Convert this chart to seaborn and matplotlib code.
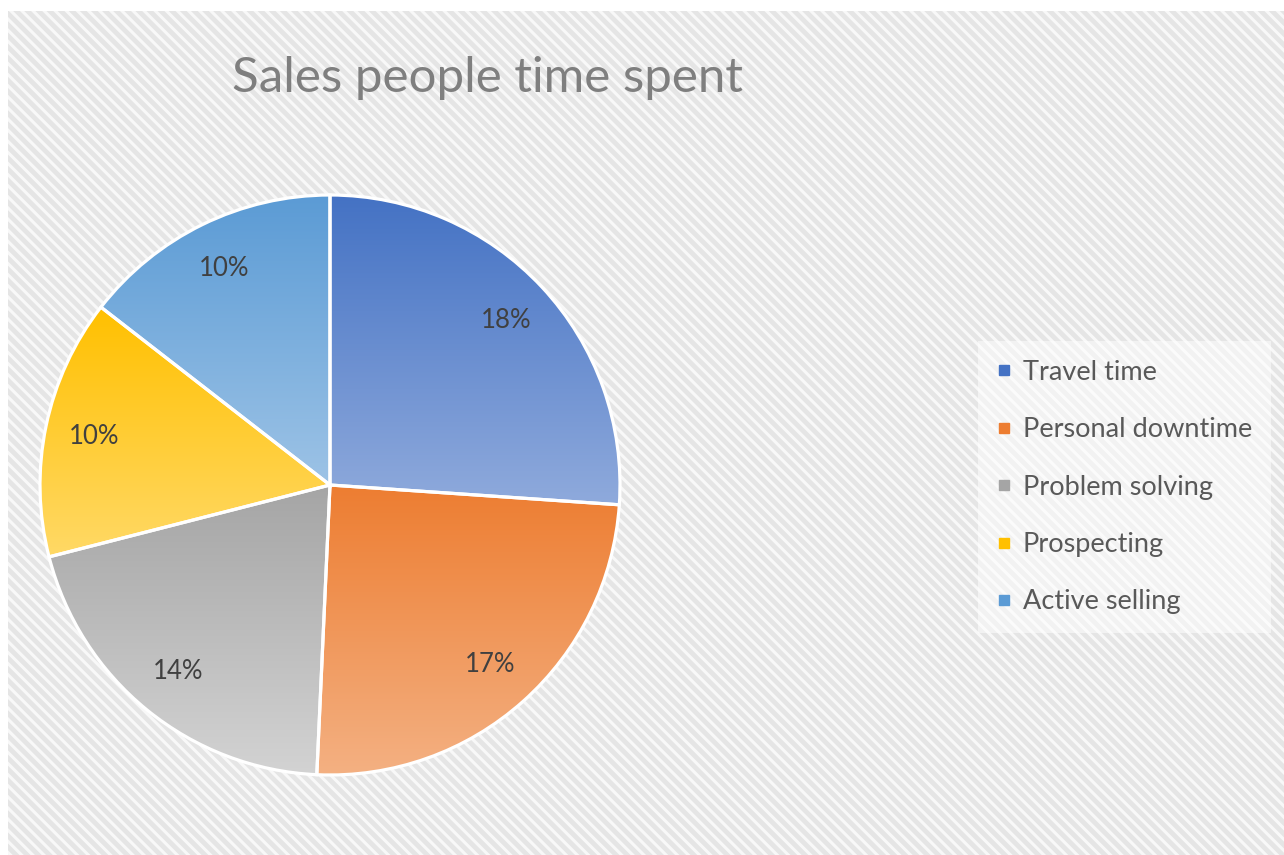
import numpy as np
import matplotlib
matplotlib.use("Agg")
import matplotlib.pyplot as plt
import matplotlib.colors as mcolors
from matplotlib.patches import Rectangle
from matplotlib.lines import Line2D
import seaborn as sns

categories = ["Travel time", "Personal downtime", "Problem solving", "Prospecting", "Active selling"]
values = [18, 17, 14, 10, 10]
base_colors = ["#4472C4", "#ED7D31", "#A5A5A5", "#FFC000", "#5B9BD5"]
light_colors = ["#8FAADC", "#F4B183", "#D3D3D3", "#FFD966", "#9DC3E6"]
title = "Sales people time spent"

sns.set_style("white")
plt.rcParams["font.family"] = ["Lato", "DejaVu Sans"]
plt.rcParams["hatch.linewidth"] = 2.2
plt.rcParams["hatch.color"] = "#F8F8F8"

W, H = 1284, 855
fig = plt.figure(figsize=(W / 100, H / 100), dpi=100)
fig.patch.set_facecolor("white")

# hatched chart background
bg = Rectangle((8 / W, 0), (W - 8) / W, (H - 11) / H, transform=fig.transFigure,
               facecolor="#E5E5E5", edgecolor="#F8F8F8", hatch="\\\\\\", linewidth=0, zorder=-5)
fig.patches.append(bg)

cx, cy, r = 330, H - 485, 290
lim = 1.05
size = 2 * lim * r
ax = fig.add_axes([(cx - size / 2) / W, (cy - size / 2) / H, size / W, size / H])
ax.set_facecolor("none")
ax.set_zorder(2)

palette = sns.color_palette(base_colors)
total = sum(values)
wedges, texts, autotexts = ax.pie(
    values, colors=palette, startangle=90, counterclock=False,
    autopct=lambda p: f"{round(p * total / 100):d}%", pctdistance=0.83,
    wedgeprops=dict(edgecolor="white", linewidth=2.3),
    textprops=dict(color="#404040", fontsize=18.5),
)
ax.set_aspect("equal")
ax.axis("off")

# vertical gradient fill within each wedge
for w, c0, c1 in zip(wedges, base_colors, light_colors):
    verts = w.get_path().vertices
    x0, y0 = verts.min(axis=0)
    x1, y1 = verts.max(axis=0)
    a = np.array(mcolors.to_rgb(c0))
    b = np.array(mcolors.to_rgb(c1))
    t = np.linspace(0, 1, 256)[:, None]
    grad = (a * (1 - t) + b * t)[:, None, :]
    im = ax.imshow(grad, extent=[x0, x1, y0, y1], origin="upper", aspect="auto",
                   zorder=1.1, interpolation="bilinear")
    im.set_clip_path(w)
    w.set_facecolor("none")
    w.set_zorder(1.2)
for t_ in autotexts:
    t_.set_zorder(10)
ax.set_xlim(-lim, lim)
ax.set_ylim(-lim, lim)
ax.set_aspect("equal")

fig.text(232 / W, 1 - 92 / H, title, fontsize=35.5, color="#7F7F7F", ha="left", va="baseline")

handles = [Line2D([0], [0], marker="s", linestyle="none", markersize=6.5,
                  markerfacecolor=c, markeredgecolor=c) for c in base_colors]
leg = fig.legend(handles, categories, loc="center left",
                 bbox_to_anchor=(978 / W, 1 - 487 / H), frameon=True,
                 fontsize=19.5, labelcolor="#595959", handlelength=0.5,
                 handletextpad=0.45, labelspacing=1.2, borderpad=0.7, borderaxespad=0)
leg.get_frame().set_facecolor("white")
leg.get_frame().set_alpha(0.5)
leg.get_frame().set_edgecolor("none")
leg.get_frame().set_boxstyle("square", pad=0)
leg.set_zorder(3)

fig.savefig("out.png", dpi=100)
